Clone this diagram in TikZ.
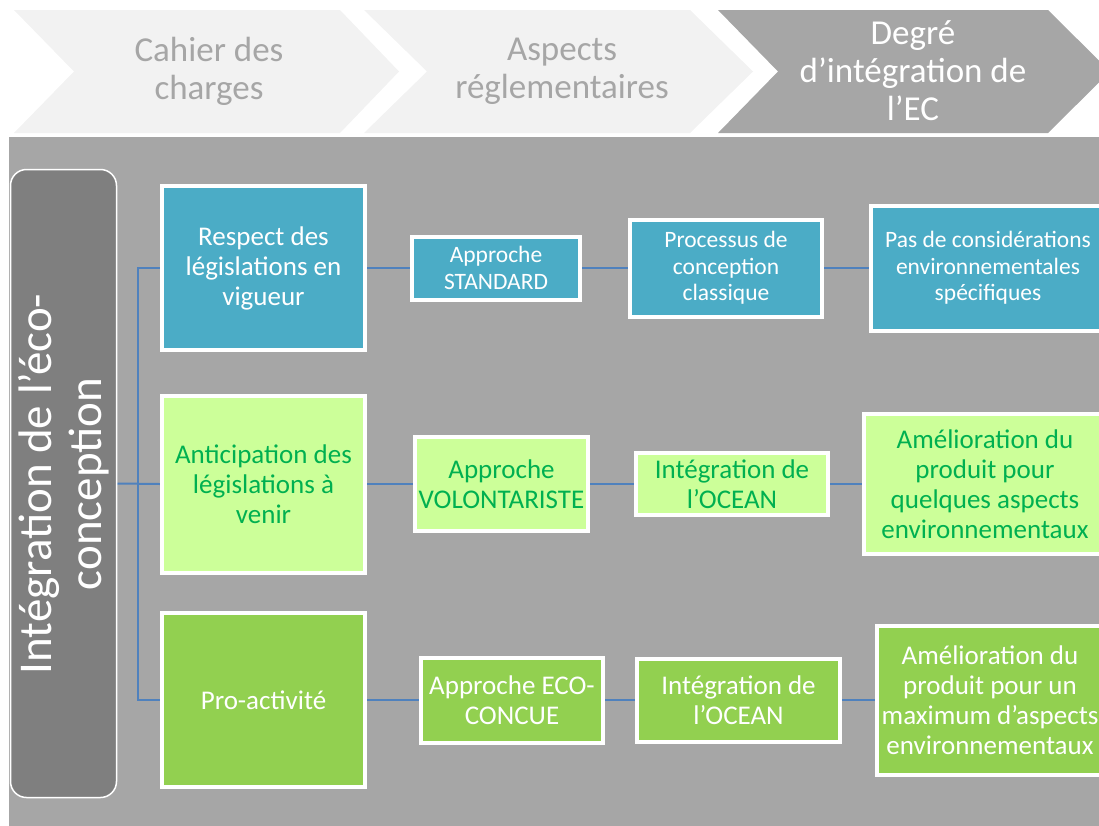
\documentclass[tikz,border=0pt]{standalone}
\usepackage{fontspec}
\setmainfont{Carlito}
\usetikzlibrary{shadows,backgrounds}
\definecolor{tealbox}{HTML}{4BACC6}
\definecolor{lightgreenbox}{HTML}{CCFF99}
\definecolor{greenbox}{HTML}{92D050}
\definecolor{greentext}{HTML}{00B050}
\definecolor{panelgrey}{HTML}{A6A6A6}
\definecolor{darkgrey}{HTML}{7F7F7F}
\definecolor{chevlight}{HTML}{F2F2F2}
\definecolor{chevtext}{HTML}{A6A6A6}
\definecolor{linkblue}{HTML}{4F81BD}
\tikzset{
  box/.style={draw=white, line width=4pt, align=center, inner sep=0pt,
    drop shadow={opacity=0.3, shadow xshift=1.5pt, shadow yshift=-2pt, fill=black}},
  teal/.style={box, fill=tealbox, text=white},
  lgreen/.style={box, fill=lightgreenbox, text=greentext},
  dgreen/.style={box, fill=greenbox, text=white},
  bigtxt/.style={font=\fontsize{27}{30}\selectfont},
  smalltxt/.style={font=\fontsize{23.5}{26.5}\selectfont},
  chevtxt/.style={font=\fontsize{35}{38}\selectfont, align=center},
  link/.style={draw=linkblue, line width=2pt},
}
\begin{document}
\begin{tikzpicture}[x=1pt,y=-1pt]
\useasboundingbox (0,0) rectangle (1099,825);
% chevrons
\fill[chevlight] (14,10) -- (340,10) -- (399,71.5) -- (340,133) -- (14,133) -- (74,71.5) -- cycle;
\fill[chevlight] (364,10) -- (690,10) -- (753,71.5) -- (690,133) -- (364,133) -- (427,71.5) -- cycle;
\fill[panelgrey] (718,10) -- (1048,10) -- (1110,71.5) -- (1048,133) -- (718,133) -- (778,71.5) -- cycle;
\node[chevtxt, text=chevtext] (c1) at (209,71) {Cahier des\\charges};
\node[chevtxt, text=chevtext] (c2) at (562,71) {Aspects\\réglementaires};
\node[chevtxt, text=white] (c3) at (913,71) {Degré\\d’intégration de\\l’EC};
% panel
\begin{pgfonlayer}{background}
\fill[panelgrey] (9,137) rectangle (1105,830);
\end{pgfonlayer}
% left vertical label
\node[draw=white, line width=1.5pt, fill=darkgrey, rounded corners=16pt,
  minimum width=106pt, minimum height=628pt, inner sep=0pt] (L) at (63.5,483.5) {};
\node[rotate=90, font=\fontsize{47}{50}\selectfont, text=white, align=center] (Ltxt) at (64,484) {Intégration de l’éco-\\conception};
% column 1
\node[teal, bigtxt, minimum width=203pt, minimum height=164pt] (b1) at (263.5,268) {Respect des\\législations en\\vigueur};
\node[lgreen, bigtxt, minimum width=203pt, minimum height=177pt] (b2) at (263.5,484) {Anticipation des\\législations à\\venir};
\node[dgreen, bigtxt, minimum width=203pt, minimum height=174pt] (b3) at (263.5,700) {Pro-activité};
% row 1
\node[teal, smalltxt, minimum width=168pt, minimum height=63pt] (r1a) at (496,268) {Approche\\STANDARD};
\node[teal, smalltxt, minimum width=192pt, minimum height=97pt] (r1b) at (726,268) {Processus de\\conception\\classique};
\node[teal, smalltxt, minimum width=234pt, minimum height=125pt] (r1c) at (988,268) {Pas de considérations\\environnementales\\spécifiques};
% row 2
\node[lgreen, bigtxt, minimum width=173pt, minimum height=94pt] (r2a) at (501.5,484) {Approche\\VOLONTARISTE};
\node[lgreen, bigtxt, minimum width=192pt, minimum height=62pt] (r2b) at (732,484) {Intégration de\\l’OCEAN};
\node[lgreen, bigtxt, minimum width=242pt, minimum height=140pt] (r2c) at (985,484) {Amélioration du\\produit pour\\quelques aspects\\environnementaux};
% row 3
\node[dgreen, bigtxt, minimum width=182pt, minimum height=85pt] (r3a) at (512,700) {Approche ECO-\\CONCUE};
\node[dgreen, bigtxt, minimum width=203pt, minimum height=83pt] (r3b) at (738.5,700) {Intégration de\\l’OCEAN};
\node[dgreen, bigtxt, minimum width=226pt, minimum height=149pt] (r3c) at (990,700) {Amélioration du\\produit pour un\\maximum d’aspects\\environnementaux};
% connectors
\coordinate (j) at (138,484);
\begin{pgfonlayer}{background}
\draw[link] (L.east) -- (b2.west);
\draw[link] (b1.west) -| (j) |- (b3.west);
\draw[link] (b1.east) -- (r1a.west);
\draw[link] (r1a.east) -- (r1b.west);
\draw[link] (r1b.east) -- (r1c.west);
\draw[link] (b2.east) -- (r2a.west);
\draw[link] (r2a.east) -- (r2b.west);
\draw[link] (r2b.east) -- (r2c.west);
\draw[link] (b3.east) -- (r3a.west);
\draw[link] (r3a.east) -- (r3b.west);
\draw[link] (r3b.east) -- (r3c.west);
\end{pgfonlayer}
\end{tikzpicture}
\end{document}
